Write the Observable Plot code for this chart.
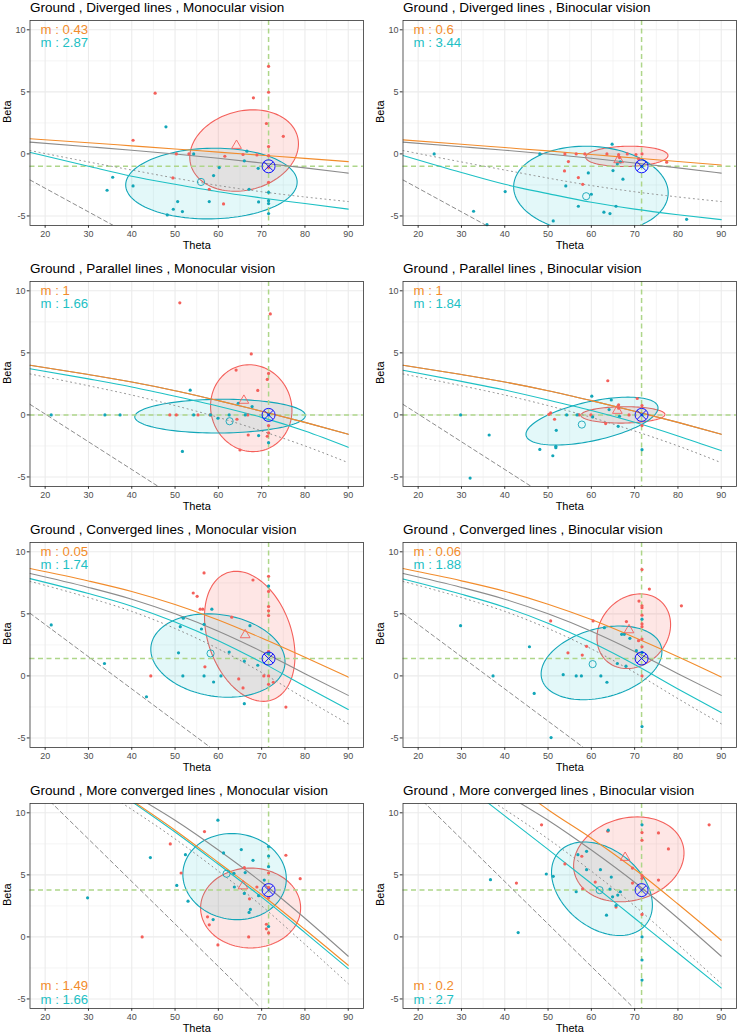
<!DOCTYPE html>
<html>
<head>
<meta charset="utf-8">
<script src="https://cdn.jsdelivr.net/npm/d3@7"></script>
<script src="https://cdn.jsdelivr.net/npm/@observablehq/plot@0.6"></script>
<style>
  html, body { margin: 0; padding: 0; background: #fff; }
  #chart { position: relative; width: 737px; height: 1033px; overflow: hidden; }
  #chart svg { position: absolute; }
</style>
</head>
<body>
<div id="chart"></div>
<script>
// Panel titles, row-major (left = monocular, right = binocular)
const titles = [
  "Ground , Diverged lines , Monocular vision",
  "Ground , Diverged lines , Binocular vision",
  "Ground , Parallel lines , Monocular vision",
  "Ground , Parallel lines , Binocular vision",
  "Ground , Converged lines , Monocular vision",
  "Ground , Converged lines , Binocular vision",
  "Ground , More converged lines , Monocular vision",
  "Ground , More converged lines , Binocular vision"
];

// Fitted m values (orange fit, teal fit)
const mOrange = [0.43, 0.6, 1, 1, 0.05, 0.06, 1.49, 0.2];
const mTeal = [2.87, 3.44, 1.66, 1.84, 1.74, 1.88, 1.66, 2.7];

// Reference point (theta, beta) per row
const refTheta = 71.6;
const refBeta = [-1, 0, 1.4, 3.77];

// Axis ticks
const xTicks = [20, 30, 40, 50, 60, 70, 80, 90];
const xMinor = [25, 35, 45, 55, 65, 75, 85];
const yTicks = [-5, 0, 5, 10];
const yMinor = [-2.5, 2.5, 7.5];

// Responses [theta, beta]
const red1 = [[45.4,4.89],[40.3,1.1],[68.1,4.52],[71.6,7.06],[71.6,4.97],[71.1,2.45],[75.0,1.42],[71.6,0.59],[71.6,-0.14],[71.6,-1.08],[71.6,-2.29],[50.3,0],[53.2,0],[61.5,-0.19],[65.7,-0.05],[68.9,-0.08],[49.5,-1.94],[57.9,-2.85],[61.2,-4.03]];
const teal1 = [[47.9,2.18],[35.6,-1.88],[34.3,-2.93],[40.3,-2.58],[54.3,0],[66.6,0.22],[66.0,-0.56],[60.2,-1.1],[58.9,-1.75],[69.2,-1.16],[67.1,-2.85],[50.6,-3.84],[49.6,-4.46],[51.7,-4.65],[48.2,-4.92],[57.9,-3.84],[69.3,-3.87],[71.6,-3.1],[71.6,-3.77],[71.6,-4.0],[71.6,-4.81]];
const red2 = [[53.9,0],[56.5,0],[58.5,0],[63.6,0],[68.3,0],[70.3,-0.05],[71.7,0],[54.7,-0.62],[53.8,-1.37],[57.0,-1.91],[58.0,-2.45],[66.3,-0.05],[77.4,-0.67],[70.9,-0.4],[66.5,-0.3]];
const teal2 = [[23.7,0],[48.1,0],[64.8,0.78],[66.7,-0.65],[65.0,-1.34],[67.3,-2.04],[59.3,-1.53],[60.0,-3.25],[54.1,-2.58],[57.0,-4.22],[62.9,-4.7],[64.3,-4.81],[65.7,-4.22],[51.2,-5.4],[40.1,-3.04],[32.8,-4.62],[35.9,-5.7],[82.0,-5.27],[71.7,-1.0],[66.0,-0.8]];
const red3 = [[51.1,9.03],[72.0,8.14],[67.6,4.91],[64.1,3.61],[71.3,2.86],[71.6,3.34],[69.1,1.97],[48.8,0],[50.3,0],[55.3,0],[58.1,0],[64.3,-0.35],[66.8,0],[71.6,-0.86],[66.9,-1.62],[71.3,-1.72],[71.6,-1.45],[65.0,-2.83]];
const teal3 = [[53.5,1.99],[21.4,0],[33.8,0],[37.3,0],[54.3,0],[58.2,0],[62.5,0],[66.2,0],[59.9,-0.27],[64.6,0.94],[67.8,0.67],[71.6,0],[69.3,-1.67],[71.6,-2.24],[51.7,-2.94]];
const red4 = [[63.8,2.75],[70.6,1.32],[66.3,0.81],[66.3,0.54],[50.6,0.16],[50.2,0.05],[51.5,-0.35],[57.2,0],[59.9,0],[68.7,0],[63.3,-0.7],[71.7,-0.86],[71.7,0.75]];
const teal4 = [[60.1,1.51],[64.6,1.21],[64.1,0.43],[29.8,0],[54.3,0],[56.7,0],[60.3,-0.16],[66.5,-0.11],[66.2,-0.92],[51.9,-1.24],[36.4,-1.62],[51.8,-2.53],[51.8,-2.64],[48.1,-2.78],[51.1,-3.29],[32.0,-5.09],[71.7,-2.8],[71.7,0]];
const red5 = [[56.7,8.3],[68.0,7.73],[71.6,8.03],[54.2,6.68],[55.1,6.41],[55.8,5.38],[56.4,5.38],[63.1,4.73],[71.6,6.81],[71.6,5.59],[71.6,5.24],[71.6,4.86],[71.6,1.97],[56.9,0.73],[44.4,0],[70.5,0],[71.6,0],[64.7,-0.24],[65.7,-0.97],[72.7,-0.51],[71.6,-0.68],[75.6,-2.51]];
const teal5 = [[21.4,4.11],[33.7,1.0],[43.4,-1.68],[51.9,4.65],[51.2,3.97],[58.5,5.38],[56.7,4.16],[56.1,3.78],[67.3,4.05],[50.8,1.86],[62.5,1.92],[66.0,1.19],[69.1,0.86],[51.8,0],[56.7,0],[60.6,0],[58.9,-0.49],[66.0,-2.24],[71.6,7.24],[71.6,1.8]];
const red6 = [[71.7,8.57],[73.4,7.0],[80.8,5.65],[71.0,6.03],[71.7,5.65],[71.7,5.49],[71.7,4.89],[71.7,4.19],[71.7,3.97],[71.7,2.97],[71.7,2.35],[71.7,0],[68.1,4.38],[60.4,4.43],[50.6,4.43],[58.9,2.38],[54.6,1.86],[57.9,1.68],[70.9,2.84]];
const teal6 = [[29.8,4.05],[45.7,2.35],[37.3,0],[46.8,-1.41],[50.7,-4.97],[63.0,3.89],[67.0,3.35],[67.6,3.35],[68.9,3.03],[71.7,4.57],[70.4,2.03],[66.0,1.0],[68.0,0.78],[53.5,0.1],[56.5,0],[57.7,0],[62.2,0],[63.6,-0.51],[71.7,-4.08],[71.7,1.89]];
const red7 = [[56.8,8.49],[48.9,7.49],[51.4,5.15],[75.6,6.58],[78.9,4.69],[71.6,5.15],[66.0,5.58],[68.9,4.02],[71.6,3.99],[71.6,3.15],[67.2,3.07],[57.5,1.62],[57.9,0.97],[71.1,1.02],[71.1,0.65],[71.6,0.32],[67.0,0],[59.9,-0.65],[42.4,0]];
const teal7 = [[59.9,9.41],[61.2,6.77],[52.4,6.63],[65.3,7.04],[68.0,6.17],[44.3,6.39],[71.6,7.28],[71.6,6.52],[71.6,5.66],[66.2,5.18],[63.6,5.12],[70.6,4.58],[50.4,4.15],[63.7,4.02],[66.0,3.5],[69.3,3.32],[53.0,2.88],[67.4,2.21],[67.1,1.97],[58.8,1.4],[29.8,3.15],[71.6,0.84]];
const red8 = [[48.5,9.03],[87.2,9.03],[63.8,8.52],[71.7,8.41],[75.5,8.38],[71.7,7.79],[77.8,7.09],[57.8,6.5],[53.9,5.88],[69.5,5.55],[71.7,4.93],[71.7,4.72],[75.5,4.58],[69.5,4.34],[60.9,4.42],[42.7,4.34],[58.0,3.88],[65.7,2.4],[71.7,1.81]];
const teal8 = [[63.9,8.6],[71.7,9.03],[58.9,6.9],[56.9,6.63],[58.9,5.42],[62.1,5.42],[49.6,5.07],[51.2,4.88],[64.6,4.82],[64.3,3.85],[64.9,3.23],[56.5,3.64],[66.7,3.64],[66.1,3.37],[65.7,2.53],[63.5,1.75],[36.7,4.61],[43.1,0.35],[71.7,0],[71.7,-1.86],[71.7,-3.48]];

// Group means [theta, beta]: triangle (red), circle (teal)
const meanRed = [[64.2,0.67],[66.3,-0.48],[65.9,1.16],[66.0,0.35],[66.2,3.3],[68.7,3.7],[65.7,4.1],[67.8,6.39]];
const meanTeal = [[56.0,-2.26],[58.8,-3.41],[62.6,-0.51],[57.8,-0.78],[58.2,1.81],[60.3,0.95],[61.9,5.09],[61.9,3.77]];

// Confidence ellipses [cx, cy, half-width, half-height, tilt]
const ellRed = [[65.95,0.27,12.55,3.28,0.165],[68.2,-0.2,9.5,0.82,0.08],[67.6,0.54,9.4,3.5,-0.05],[67.3,0.0,9.7,0.66,0.05],[67.25,3.19,10.45,5.24,-0.3],[69.8,3.6,8.5,3.01,0.18],[67.45,2.33,11.55,3.22,0.0],[68.65,6.25,12.75,3.42,0.15]];
const ellTeal = [[58.4,-2.39,19.8,2.85,0.04],[59.9,-2.9,17.85,3.52,-0.07],[60.4,-0.1,19.7,1.36,0.04],[60.15,-0.5,15.25,1.93,0.55],[59.9,1.64,15.5,3.36,-0.15],[62.35,1.05,13.95,2.97,0.3],[63.75,4.86,11.95,3.47,-0.05],[62.45,3.88,11.65,3.77,-0.35]];

// Model curves [theta, beta]: ground truth (gray), dotted and dashed bounds per row
const grayR1 = [[16.5,0.95],[30,0.58],[40,0.3],[50,-0.01],[60,-0.35],[70,-0.73],[80,-1.13],[90,-1.55]];
const grayR2 = [[16.5,4.0],[30,3.25],[40,2.65],[50,1.95],[60,1.15],[70,0.3],[80,-0.6],[90,-1.56]];
const grayR3 = [[16.5,8.25],[30,7.13],[40,6.18],[50,5.0],[60,3.6],[70,1.97],[80,0.17],[90,-1.57]];
const grayR4 = [[42.5,11.0],[50,9.4],[60,7.0],[70,4.4],[80,1.5],[90,-1.56]];
const dottedR1 = [[16.5,0.27],[30,-0.65],[40,-1.3],[50,-1.95],[60,-2.55],[70,-3.05],[80,-3.47],[90,-3.84]];
const dottedR2 = [[16.5,3.3],[30,2.35],[40,1.6],[50,0.75],[60,-0.2],[70,-1.3],[80,-2.5],[90,-3.85]];
const dottedR3 = [[16.5,7.62],[30,6.31],[40,5.2],[50,3.82],[60,2.18],[70,0.27],[80,-1.83],[90,-3.86]];
const dottedR4 = [[36.8,11.0],[50,7.9],[60,5.3],[70,2.5],[80,-0.6],[90,-3.77]];
const dashedR1 = [[16.5,-2.1],[36.2,-5.85]];
const dashedR2 = [[16.5,0.85],[46.5,-5.85]];
const dashedR3 = [[16.5,5.05],[58.5,-5.85]];
const dashedR4 = [[21.2,10.9],[69.4,-5.6]];

// Fitted curves per panel
const orange1 = [[16.5,1.22],[30,0.9],[40,0.65],[50,0.4],[60,0.14],[70,-0.11],[80,-0.36],[90,-0.62]];
const orange2 = [[16.5,1.13],[30,0.78],[40,0.51],[50,0.24],[60,-0.05],[70,-0.33],[80,-0.61],[90,-0.89]];
const orange3 = grayR2;
const orange4 = grayR2;
const orange5 = [[16.5,8.65],[30,7.65],[40,6.8],[50,5.75],[60,4.5],[70,3.05],[80,1.5],[90,-0.1]];
const orange6 = [[16.5,8.65],[30,7.66],[40,6.82],[50,5.78],[60,4.54],[70,3.1],[80,1.55],[90,-0.08]];
const orange7 = [[40.0,11.0],[50,8.6],[60,6.0],[70,3.4],[80,0.6],[90,-2.29]];
const orange8 = [[47.0,11.0],[50,10.25],[60,7.95],[70,5.45],[80,2.65],[90,-0.27]];
const tealFit1 = [[16.5,0.12],[30,-1.0],[40,-1.8],[50,-2.45],[60,-3.05],[70,-3.55],[80,-4.0],[90,-4.45]];
const tealFit2 = [[16.5,-0.13],[30,-1.5],[40,-2.45],[50,-3.2],[60,-3.9],[70,-4.45],[80,-4.9],[90,-5.3]];
const tealFit3 = [[16.5,3.72],[30,2.9],[40,2.25],[50,1.5],[60,0.7],[70,-0.2],[80,-1.3],[90,-2.61]];
const tealFit4 = [[16.5,3.6],[30,2.7],[40,2.0],[50,1.2],[60,0.35],[70,-0.6],[80,-1.7],[90,-2.88]];
const tealFit5 = [[16.5,7.84],[30,6.64],[40,5.62],[50,4.35],[60,2.84],[70,1.09],[80,-0.83],[90,-2.7]];
const tealFit6 = [[16.5,7.81],[30,6.58],[40,5.54],[50,4.25],[60,2.71],[70,0.92],[80,-1.05],[90,-2.95]];
const tealFit7 = [[39.6,11.0],[50,8.45],[60,5.85],[70,3.2],[80,0.35],[90,-2.56]];
const tealFit8 = [[35.4,11.0],[40,9.75],[50,7.05],[60,4.3],[70,1.5],[80,-1.3],[90,-4.12]];

// Lookup tables built from the arrays above
const redPts = [red1, red2, red3, red4, red5, red6, red7, red8];
const tealPts = [teal1, teal2, teal3, teal4, teal5, teal6, teal7, teal8];
const grayRows = [grayR1, grayR2, grayR3, grayR4];
const dottedRows = [dottedR1, dottedR2, dottedR3, dottedR4];
const dashedRows = [dashedR1, dashedR2, dashedR3, dashedR4];
const orangeFits = [orange1, orange2, orange3, orange4, orange5, orange6, orange7, orange8];
const tealFits = [tealFit1, tealFit2, tealFit3, tealFit4, tealFit5, tealFit6, tealFit7, tealFit8];

const C = {
  red: "#F4605B", redFill: "#F8766D",
  teal: "#12A6B8", tealFill: "#00BFC4", tealLine: "#1DC0C4",
  orange: "#F28C2C", gray: "#8C8C8C", green: "#AED68A", blue: "#0000FF",
  grid: "#EBEBEB", ink: "#333333", tick: "#4D4D4D"
};

// Outline of an ellipse from its centre, half-extents and tilt
function ellipseOutline([cx, cy, rx, ry, c]) {
  const phi = Math.acos(c);
  return d3.range(0, 121).map(k => {
    const t = 2 * Math.PI * k / 120;
    return [cx + rx * Math.cos(t), cy + ry * Math.cos(t - phi)];
  });
}

const X = d => d[0], Y = d => d[1];

function panel(i) {
  const row = Math.floor(i / 2);
  const atBottom = row === 3;
  const labelAnchor = atBottom ? "bottom-left" : "top-left";
  const labelStyle = {frameAnchor: labelAnchor, dx: 10.5, text: d => d, fontSize: 13.2, textAnchor: "start", lineAnchor: "middle"};
  return Plot.plot({
    width: 364,
    height: 261,
    marginLeft: 29.5,
    marginRight: 1.1,
    marginTop: 20,
    marginBottom: 36,
    x: {domain: [16.5, 93.5]},
    y: {domain: [-5.77, 10.75]},
    style: {fontFamily: "'Liberation Sans', Arial, sans-serif", background: "#fff", overflow: "visible"},
    marks: [
      Plot.gridX(xMinor, {stroke: C.grid, strokeOpacity: 1, strokeWidth: 0.55}),
      Plot.gridY(yMinor, {stroke: C.grid, strokeOpacity: 1, strokeWidth: 0.55}),
      Plot.gridX(xTicks, {stroke: C.grid, strokeOpacity: 1, strokeWidth: 1.07}),
      Plot.gridY(yTicks, {stroke: C.grid, strokeOpacity: 1, strokeWidth: 1.07}),
      // ellipses
      Plot.line(ellipseOutline(ellRed[i]), {x: X, y: Y, fill: C.redFill, fillOpacity: 0.18, stroke: C.red, strokeWidth: 1.1, clip: true}),
      Plot.line(ellipseOutline(ellTeal[i]), {x: X, y: Y, fill: C.tealFill, fillOpacity: 0.11, stroke: C.teal, strokeWidth: 1.1, clip: true}),
      // reference cross-hair
      Plot.ruleX([refTheta], {stroke: C.green, strokeWidth: 1.5, strokeDasharray: "5,3.5"}),
      Plot.ruleY([refBeta[row]], {stroke: C.green, strokeWidth: 1.5, strokeDasharray: "5,3.5"}),
      // model curves
      Plot.line(dashedRows[row], {x: X, y: Y, stroke: C.gray, strokeWidth: 1, strokeDasharray: "4,3", clip: true}),
      Plot.line(dottedRows[row], {x: X, y: Y, stroke: C.gray, strokeWidth: 1, strokeDasharray: "1,3.6", curve: "monotone-x", clip: true}),
      Plot.line(grayRows[row], {x: X, y: Y, stroke: C.gray, strokeWidth: 1.1, curve: "monotone-x", clip: true}),
      Plot.line(tealFits[i], {x: X, y: Y, stroke: C.tealLine, strokeWidth: 1.1, curve: "monotone-x", clip: true}),
      Plot.line(orangeFits[i], {x: X, y: Y, stroke: C.orange, strokeWidth: 1.1, curve: "monotone-x", clip: true}),
      // responses
      Plot.dot(redPts[i], {x: X, y: Y, r: 1.6, fill: C.red, stroke: "none"}),
      Plot.dot(tealPts[i], {x: X, y: Y, r: 1.6, fill: C.teal, stroke: "none"}),
      // means and reference marker
      Plot.dot([meanRed[i]], {x: X, y: Y, symbol: "triangle", r: 3.6, stroke: C.red, fill: "none", strokeWidth: 0.9}),
      Plot.dot([meanTeal[i]], {x: X, y: Y, r: 3.6, stroke: C.teal, fill: "none", strokeWidth: 0.9}),
      Plot.dot([[refTheta, refBeta[row]]], {x: X, y: Y, r: 6.5, stroke: C.blue, fill: "none", strokeWidth: 0.9}),
      Plot.dot([[refTheta, refBeta[row]]], {x: X, y: Y, symbol: "times", r: 4.2, stroke: C.blue, strokeWidth: 0.9}),
      // fitted m labels
      Plot.text([`m : ${mOrange[i]}`], {...labelStyle, dy: atBottom ? -22.4 : 9.4, fill: C.orange}),
      Plot.text([`m : ${mTeal[i]}`], {...labelStyle, dy: atBottom ? -9.2 : 22.6, fill: C.tealLine}),
      // axes
      Plot.axisX(xTicks, {tickSize: 2.75, tickPadding: 2.3, stroke: C.ink, fill: C.tick, fontSize: 9, label: null, tickFormat: d => String(d)}),
      Plot.axisY(yTicks, {tickSize: 2.75, tickPadding: 1.8, stroke: C.ink, fill: C.tick, fontSize: 9, label: null, tickFormat: d => String(d)}),
      Plot.text(["Theta"], {frameAnchor: "bottom", dy: 20, text: d => d, fontSize: 11, fill: "#000", lineAnchor: "middle"}),
      Plot.text(["Beta"], {frameAnchor: "left", dx: -22.8, rotate: -90, text: d => d, fontSize: 11, fill: "#000", lineAnchor: "middle"}),
      Plot.text([titles[i]], {frameAnchor: "top-left", dy: -13, text: d => d, fontSize: 13.5, fill: "#000", textAnchor: "start", lineAnchor: "middle"}),
      Plot.frame({stroke: C.ink, strokeWidth: 0.8})
    ]
  });
}

const chart = document.getElementById("chart");
for (let i = 0; i < 8; i++) {
  const svg = panel(i);
  svg.style.left = `${(i % 2) * 372.8}px`;
  svg.style.top = `${Math.floor(i / 2) * 261}px`;
  chart.appendChild(svg);
}
</script>
</body>
</html>
